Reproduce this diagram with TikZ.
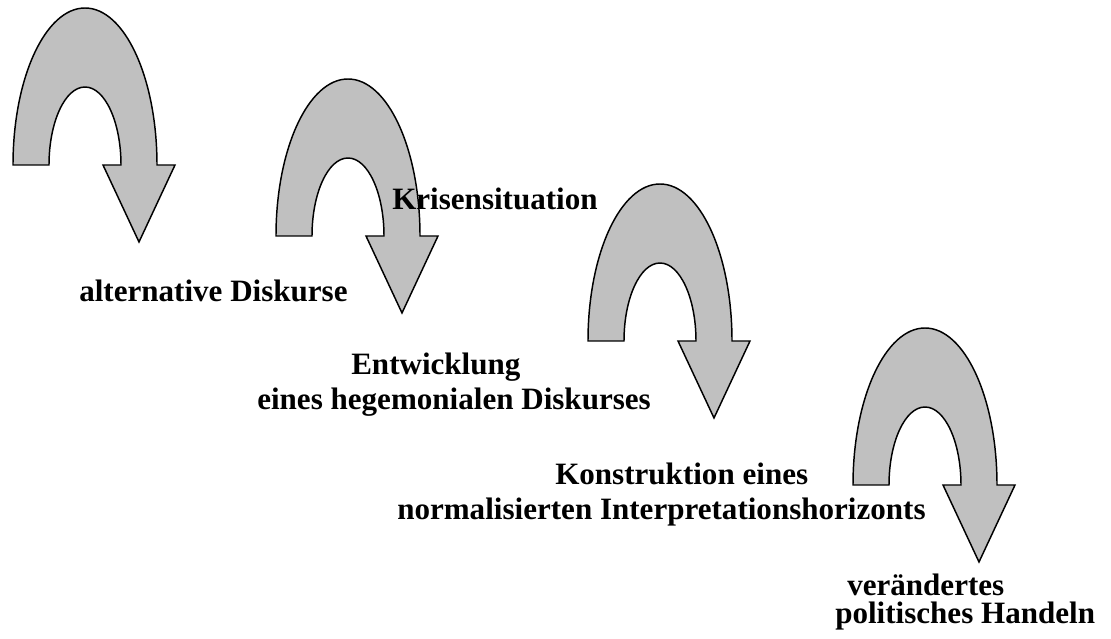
\documentclass[tikz,border=0pt]{standalone}
\usepackage{fontspec}
\setmainfont{Liberation Serif}
\usetikzlibrary{positioning}
\definecolor{arrowgray}{RGB}{192,192,192}

\begin{document}
\begin{tikzpicture}[x=0.75pt, y=0.75pt,
	lbl/.style={
		anchor=base west,
		inner sep=0pt,
		font=\bfseries\fontsize{23.3}{28}\selectfont,
	},
	uarrow/.style={draw=black, fill=arrowgray, line width=1.1pt, line join=miter},
	uturn/.pic={
		\path[uarrow] (0,0) arc[start angle=180, end angle=0, x radius=72, y radius=157]
			-- (162,0) -- (126,-77) -- (90,0) -- (108,0)
			arc[start angle=0, end angle=180, x radius=36, y radius=78] -- cycle;
	},]
	\useasboundingbox (0,0) rectangle (1111,639);
	% the four turning arrows, from top left to bottom right
	\pic (arrA) at (13,474) {uturn};
	\pic (arrB) at (276,403) {uturn};
	\pic (arrC) at (588,298) {uturn};
	\pic (arrD) at (853,154) {uturn};
	
	\node[lbl] (alt) at (79,337) {alternative Diskurse};
	\node[lbl] (krise) at (392,429) {Krisensituation};
	\node[lbl] (entw1) at (351,264) {Entwicklung};
	\node[lbl] (entw2) at (257,229) {eines hegemonialen Diskurses};
	\node[lbl] (konst1) at (555,154) {Konstruktion eines};
	\node[lbl] (konst2) at (397,119) {normalisierten Interpretationshorizonts};
	\node[lbl] (hand1) at (847,43) {verändertes};
	\node[lbl] (hand2) at (835,15) {politisches Handeln};
\end{tikzpicture}
\end{document}
